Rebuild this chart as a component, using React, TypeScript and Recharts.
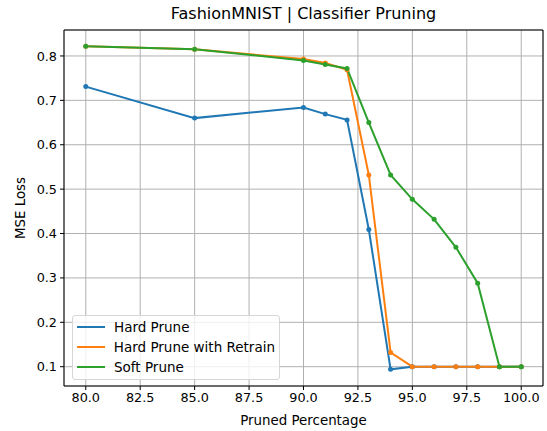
import { LineChart, Line, XAxis, YAxis, CartesianGrid, Legend, ReferenceLine } from "recharts";

const pruned = [80, 85, 90, 91, 92, 93, 94, 95, 96, 97, 98, 99, 100];
const hardPrune = [0.731, 0.66, 0.684, 0.669, 0.656, 0.409, 0.094, 0.1, 0.1, 0.1, 0.1, 0.1, 0.1];
const hardRetrain = [0.822, 0.815, 0.793, 0.784, 0.769, 0.532, 0.132, 0.1, 0.1, 0.1, 0.1, 0.1, 0.1];
const softPrune = [0.822, 0.815, 0.79, 0.781, 0.772, 0.65, 0.532, 0.477, 0.432, 0.369, 0.288, 0.1, 0.1];

const xTicks = [80, 82.5, 85, 87.5, 90, 92.5, 95, 97.5, 100];
const yTicks = [0.1, 0.2, 0.3, 0.4, 0.5, 0.6, 0.7, 0.8];

const X_DOMAIN = [79, 101];
const Y_DOMAIN = [0.0565, 0.8585];
const FONT = "'DejaVu Sans', sans-serif";

const rows = pruned.map((p, i) => ({
  p,
  hard: hardPrune[i],
  retrain: hardRetrain[i],
  soft: softPrune[i],
}));

function LegendBox(props: any) {
  const items = props.payload || [];
  return (
    <div
      style={{
        width: 208,
        boxSizing: "border-box",
        background: "rgba(255,255,255,0.8)",
        border: "1px solid #d6d6d6",
        borderRadius: 3,
        padding: "1px 4px 1px 4px",
        fontFamily: FONT,
        fontSize: 13.5,
        color: "#000",
      }}
    >
      {items.map((it: any) => (
        <div key={it.value} style={{ display: "flex", alignItems: "center", height: 20.2, whiteSpace: "nowrap" }}>
          <div style={{ width: 28, height: 2, background: it.color, marginRight: 9 }} />
          <span>{it.value}</span>
        </div>
      ))}
    </div>
  );
}

export default function App() {
  return (
    <div style={{ position: "absolute", left: 0, top: 0, width: 547, height: 431, background: "#fff" }}>
      <div
        style={{
          position: "absolute",
          left: 64,
          width: 479,
          top: 4,
          textAlign: "center",
          fontFamily: FONT,
          fontSize: 16,
          color: "#000",
        }}
      >
        FashionMNIST | Classifier Pruning
      </div>
      <LineChart width={547} height={431} data={rows} margin={{ top: 30, right: 4, bottom: 0, left: 0 }}>
        <CartesianGrid stroke="#b0b0b0" strokeWidth={1} />
        <XAxis
          dataKey="p"
          type="number"
          domain={X_DOMAIN}
          ticks={xTicks}
          tickFormatter={(v: number) => v.toFixed(1)}
          height={45}
          stroke="#000"
          tickSize={4}
          tickMargin={3}
          tick={{ fill: "#000", fontSize: 12.8, fontFamily: FONT }}
          allowDataOverflow
          label={{ value: "Pruned Percentage", position: "insideBottom", offset: 6, fill: "#000", fontSize: 13.4, fontFamily: FONT }}
        />
        <YAxis
          type="number"
          domain={Y_DOMAIN}
          ticks={yTicks}
          tickFormatter={(v: number) => v.toFixed(1)}
          width={64}
          stroke="#000"
          tickSize={4}
          tickMargin={3}
          tick={{ fill: "#000", fontSize: 12.8, fontFamily: FONT }}
          allowDataOverflow
          label={{
            content: () => (
              <text
                x={20}
                y={208}
                transform="rotate(-90 20 208)"
                textAnchor="middle"
                dominantBaseline="central"
                fill="#000"
                fontSize={13.4}
                fontFamily={FONT}
              >
                MSE Loss
              </text>
            ),
          }}
        />
        <ReferenceLine x={X_DOMAIN[1]} stroke="#000" />
        <ReferenceLine y={Y_DOMAIN[1]} stroke="#000" />
        <Legend
          layout="horizontal"
          verticalAlign="middle"
          align="center"
          content={LegendBox}
          wrapperStyle={{ left: 72, top: 315, width: "auto" }}
        />
        <Line
          dataKey="hard"
          name="Hard Prune"
          stroke="#1f77b4"
          strokeWidth={2}
          dot={{ r: 2.5, fill: "#1f77b4", stroke: "none" }}
          isAnimationActive={false}
        />
        <Line
          dataKey="retrain"
          name="Hard Prune with Retrain"
          stroke="#ff7f0e"
          strokeWidth={2}
          dot={{ r: 2.5, fill: "#ff7f0e", stroke: "none" }}
          isAnimationActive={false}
        />
        <Line
          dataKey="soft"
          name="Soft Prune"
          stroke="#2ca02c"
          strokeWidth={2}
          dot={{ r: 2.5, fill: "#2ca02c", stroke: "none" }}
          isAnimationActive={false}
        />
      </LineChart>
    </div>
  );
}
